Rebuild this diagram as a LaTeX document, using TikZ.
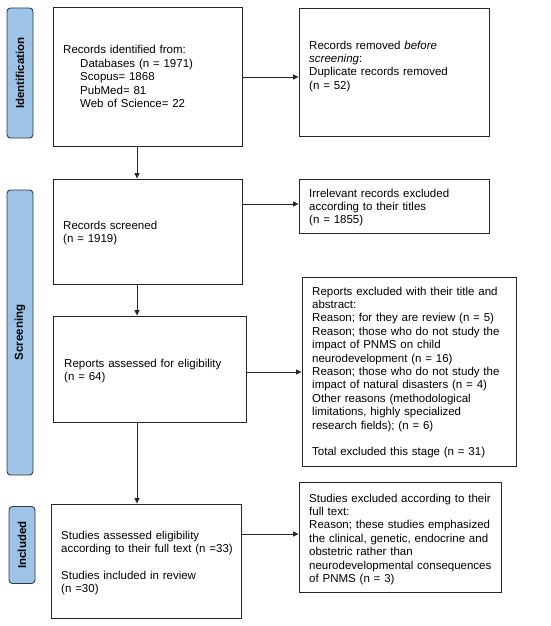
\documentclass[tikz,border=0pt]{standalone}
\usepackage{fontspec}
\setmainfont{Liberation Sans}
\usetikzlibrary{arrows.meta}
\definecolor{phaseblue}{HTML}{9DC3E6}
\definecolor{phaseedge}{HTML}{2B3A4A}
\begin{document}
\begin{tikzpicture}[x=1pt,y=-1pt,
  box/.style={draw=black!85,line width=0.9pt,inner sep=0pt},
  txt/.style={anchor=base west,inner sep=0pt,align=left,text width=#1,
    font=\fontsize{11.5}{13.4}\selectfont},
  txt/.default=205pt,
  phase/.style={draw=phaseedge,fill=phaseblue,line width=0.9pt,rounded corners=3.5pt,inner sep=0pt},
  phasetxt/.style={rotate=90,font=\fontsize{11.5}{13}\selectfont\bfseries,inner sep=0pt},
  arr/.style={-{Triangle[length=5.5pt,width=5pt]},line width=0.7pt,black!85}]
\useasboundingbox (0,0) rectangle (550,626);
\fill[white] (0,0) rectangle (550,626);
% phase labels
\node[phase,minimum width=26pt,minimum height=130pt] (pid) at (20,73) {};
\node[phasetxt] at (pid.center) {Identification};
\node[phase,minimum width=26pt,minimum height=285pt] (psc) at (20,332.5) {};
\node[phasetxt] at (psc.center) {Screening};
\node[phase,minimum width=26pt,minimum height=77pt] (pin) at (22,545) {};
\node[phasetxt] at (pin.center) {Included};
% boxes
\node[box,minimum width=189pt,minimum height=139pt] (b1) at (147.5,76.5) {};
\node[box,minimum width=190pt,minimum height=128pt] (b2) at (394,72) {};
\node[box,minimum width=189pt,minimum height=105pt] (b3) at (147.5,231.5) {};
\node[box,minimum width=190pt,minimum height=54pt] (b4) at (394,206) {};
\node[box,minimum width=193pt,minimum height=106pt] (b5) at (149.5,369) {};
\node[box,minimum width=214pt,minimum height=189pt] (b6) at (409,371.5) {};
\node[box,minimum width=190pt,minimum height=114pt] (b7) at (146,561) {};
\node[box,minimum width=202pt,minimum height=110pt] (b8) at (400,537) {};
% texts
\node[txt] at (63,54) {Records identified from:\\
\hspace*{17pt}Databases (n = 1971)\\
\hspace*{17pt}Scopus= 1868\\
\hspace*{17pt}PubMed= 81\\
\hspace*{17pt}Web of Science= 22};
\node[txt] at (309,49) {Records removed \textit{before}\\ \textit{screening}:\\
Duplicate records removed\\ (n = 52)};
\node[txt] at (63,229) {Records screened\\ (n = 1919)};
\node[txt] at (309,197) {Irrelevant records excluded\\ according to their titles\\ (n = 1855)};
\node[txt] at (64,367) {Reports assessed for eligibility\\ (n = 64)};
\node[txt] at (312,295) {Reports excluded with their title and\\ abstract:\\
Reason; for they are review (n = 5)\\
Reason; those who do not study the\\ impact of PNMS on child\\ neurodevelopment (n = 16)\\
Reason; those who do not study the\\ impact of natural disasters (n = 4)\\
Other reasons (methodological\\ limitations, highly specialized\\ research fields); (n = 6)\\[13.4pt]
Total excluded this stage (n = 31)};
\node[txt] at (61,539) {Studies assessed eligibility\\ according to their full text (n =33)\\[13.4pt]
Studies included in review\\ (n =30)};
\node[txt] at (309,502) {Studies excluded according to their\\ full text:\\
Reason; these studies emphasized\\ the clinical, genetic, endocrine and\\ obstetric rather than\\ neurodevelopmental consequences\\ of PNMS (n = 3)};
% arrows
\draw[arr] (b1.east |- 0,77) -- (b2.west |- 0,77);
\draw[arr] (b3.east |- 0,204) -- (b4.west |- 0,204);
\draw[arr] (b5.east |- 0,372) -- (b6.west |- 0,372);
\draw[arr] (b7.east |- 0,534) -- (b8.west |- 0,534);
\draw[arr] (b1.south -| 137,0) -- (b3.north -| 137,0);
\draw[arr] (b3.south -| 137,0) -- (b5.north -| 137,0);
\draw[arr] (b5.south -| 137,0) -- (b7.north -| 137,0);
\end{tikzpicture}
\end{document}
